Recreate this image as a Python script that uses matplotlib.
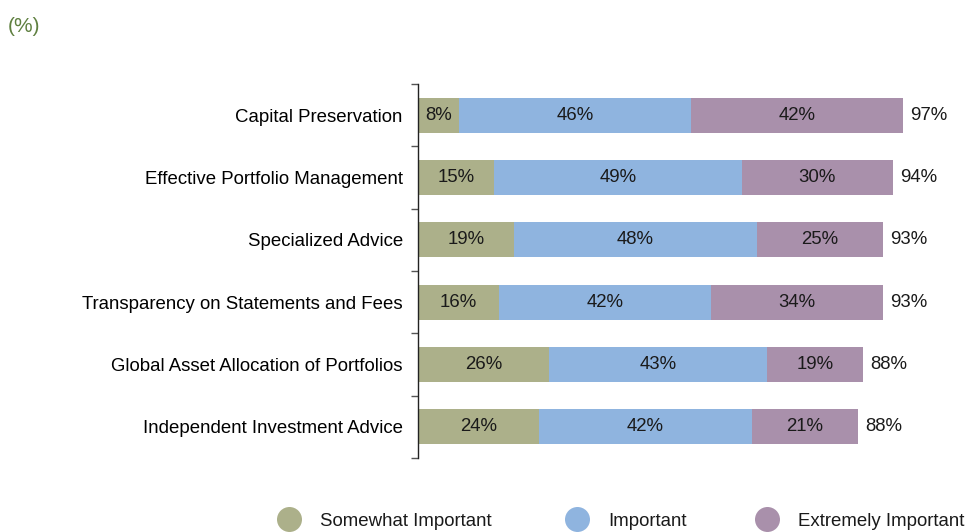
import matplotlib.pyplot as plt
from matplotlib.lines import Line2D

categories = [
    "Capital Preservation",
    "Effective Portfolio Management",
    "Specialized Advice",
    "Transparency on Statements and Fees",
    "Global Asset Allocation of Portfolios",
    "Independent Investment Advice",
]
somewhat = [8, 15, 19, 16, 26, 24]
important = [46, 49, 48, 42, 43, 42]
extremely = [42, 30, 25, 34, 19, 21]
totals = [97, 94, 93, 93, 88, 88]
series_names = ["Somewhat Important", "Important", "Extremely Important"]
colors = ["#acb08a", "#8fb4df", "#a990ab"]

plt.rcParams['font.family'] = ['Liberation Sans', 'DejaVu Sans']
fs = 13.4

fig = plt.figure(figsize=(9.7, 5.32), dpi=100)
ax = fig.add_axes([0.431, 0.139, 0.569, 0.703])

y = list(range(len(categories)))
left = [0] * len(categories)
for vals, col in zip([somewhat, important, extremely], colors):
    ax.barh(y, vals, left=left, height=0.56, color=col, edgecolor='none')
    for yi, l, v in zip(y, left, vals):
        ax.text(l + v / 2, yi, f"{v}%", ha='center', va='center', fontsize=fs, color='#1a1a1a')
    left = [l + v for l, v in zip(left, vals)]

for yi, l, t in zip(y, left, totals):
    ax.text(l + 1.4, yi, f"{t}%", ha='left', va='center', fontsize=fs, color='#1a1a1a')

ax.set_xlim(0, 109.2)
ax.set_ylim(len(categories) - 0.5, -0.5)
ax.set_yticks(y)
ax.set_yticklabels(categories, fontsize=fs)
ax.tick_params(axis='y', which='major', length=0, pad=11)
ax.set_yticks([i - 0.5 for i in range(len(categories) + 1)], minor=True)
ax.tick_params(axis='y', which='minor', length=5, width=1, color='#555555')
ax.set_xticks([])
for s in ['top', 'right', 'bottom']:
    ax.spines[s].set_visible(False)
ax.spines['left'].set_color('#222222')
ax.spines['left'].set_linewidth(1)

fig.text(8 / 970, 1 - 26 / 532, "(%)", fontsize=15, color='#5f8040', va='center', ha='left')

# legend drawn by hand
marker_x = [289, 577, 767]
for mx, name, col in zip(marker_x, series_names, colors):
    fig.add_artist(Line2D([mx / 970], [1 - 519 / 532], marker='o', markersize=18,
                          color=col, markeredgecolor='none', transform=fig.transFigure))
    fig.text((mx + 31) / 970, 1 - 522 / 532, name, fontsize=fs, va='center', ha='left', color='#1a1a1a')

plt.savefig("out.png", dpi=100)
